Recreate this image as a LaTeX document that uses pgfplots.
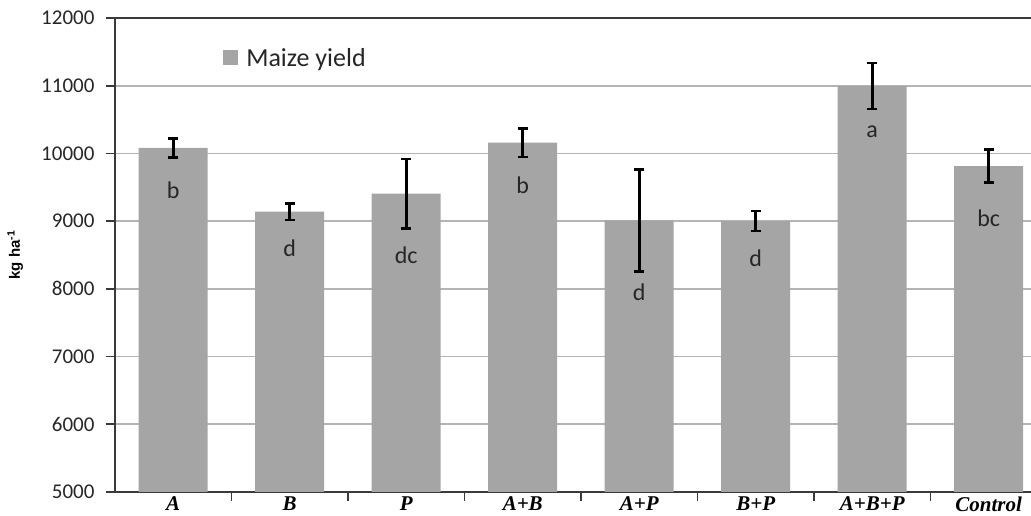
\documentclass[border=0pt]{standalone}
\usepackage{pgfplots}
\pgfplotsset{compat=1.18}
\usepackage{pgfplotstable}
\usepackage{fontspec}
\setmainfont{Carlito}
\newfontfamily\tnr{Liberation Serif}
\newfontfamily\arial{Liberation Sans}
\definecolor{barfill}{HTML}{A5A5A5}
\definecolor{gridc}{HTML}{B4B4B4}
\definecolor{axc}{HTML}{3A3A3A}
\pgfplotstableread{
x y e ly lab
0 10083 140 9459 b
1 9140 122 8603 d
2 9405 510 8499 dc
3 10160 212 9533 b
4 9010 755 7953 d
5 9000 148 8455 d
6 10996 337 10316 a
7 9814 245 9046 bc
}\datatab
\begin{document}
\begin{tikzpicture}[x=1pt,y=1pt]
\path[use as bounding box] (0,0) rectangle (1031,516);
\begin{axis}[
  at={(115pt,24pt)}, anchor=south west,
  scale only axis, width=916pt, height=474pt,
  xmin=-0.5, xmax=7.363, ymin=5000, ymax=12000,
  axis x line*=bottom, axis y line*=left,
  axis line style={axc, line width=1.8pt, -},
  ytick={5000,6000,...,12000},
  scaled y ticks=false,
  ymajorgrids, grid style={gridc, line width=1.6pt},
  tick align=outside,
  major tick length=9pt,
  tick style={axc, line width=1.6pt},
  /pgf/number format/assume math mode=true,
  /pgf/number format/1000 sep={},
  yticklabel style={font=\fontsize{21}{24}\selectfont, text=black!85, xshift=-8pt},
  xtick={0.5,1.5,...,6.5}, xticklabels={},
  extra x ticks={0,1,2,3,4,5,6,7},
  extra x tick labels={A,B,P,A+B,A+P,B+P,A+B+P,Control},
  extra x tick style={major tick length=0pt, tick style={draw=none},
    xticklabel style={font=\tnr\bfseries\itshape\fontsize{21}{24}\selectfont, text=black, yshift=-1pt}},
  ylabel={\arial\bfseries kg ha\textsuperscript{-1}},
  every axis y label/.style={at={(axis description cs:-0.109,0.5)}, rotate=90, anchor=center, font=\fontsize{15}{18}\selectfont},
  legend style={at={(rel axis cs:0.118,0.916)}, anchor=west, draw=none, fill=none,
    font=\fontsize{26}{30}\selectfont, inner sep=0pt, nodes={inner sep=0pt, text=black!85},
    /tikz/every odd column/.style={column sep=8pt}},
]
\addplot[ybar, bar width=69pt, fill=barfill, draw=none,
  legend image code/.code={\fill[barfill] (0pt,-7.5pt) rectangle (15pt,7.5pt);},
  error bars/.cd, y dir=both, y explicit,
  error bar style={line width=2.6pt, black},
  error mark options={rotate=90, mark size=5pt, line width=2.6pt, black}]
  table[x=x, y=y, y error=e] {\datatab};
\addlegendentry{Maize yield}
\addplot[draw=none, mark=none, forget plot, nodes near coords, point meta=explicit symbolic,
  nodes near coords style={anchor=center, font=\fontsize{24}{28}\selectfont, text=black!85}]
  table[x=x, y=ly, meta=lab] {\datatab};
\draw[axc, line width=1.8pt] (rel axis cs:0,1) -- (rel axis cs:1,1);
\end{axis}
\end{tikzpicture}
\end{document}
